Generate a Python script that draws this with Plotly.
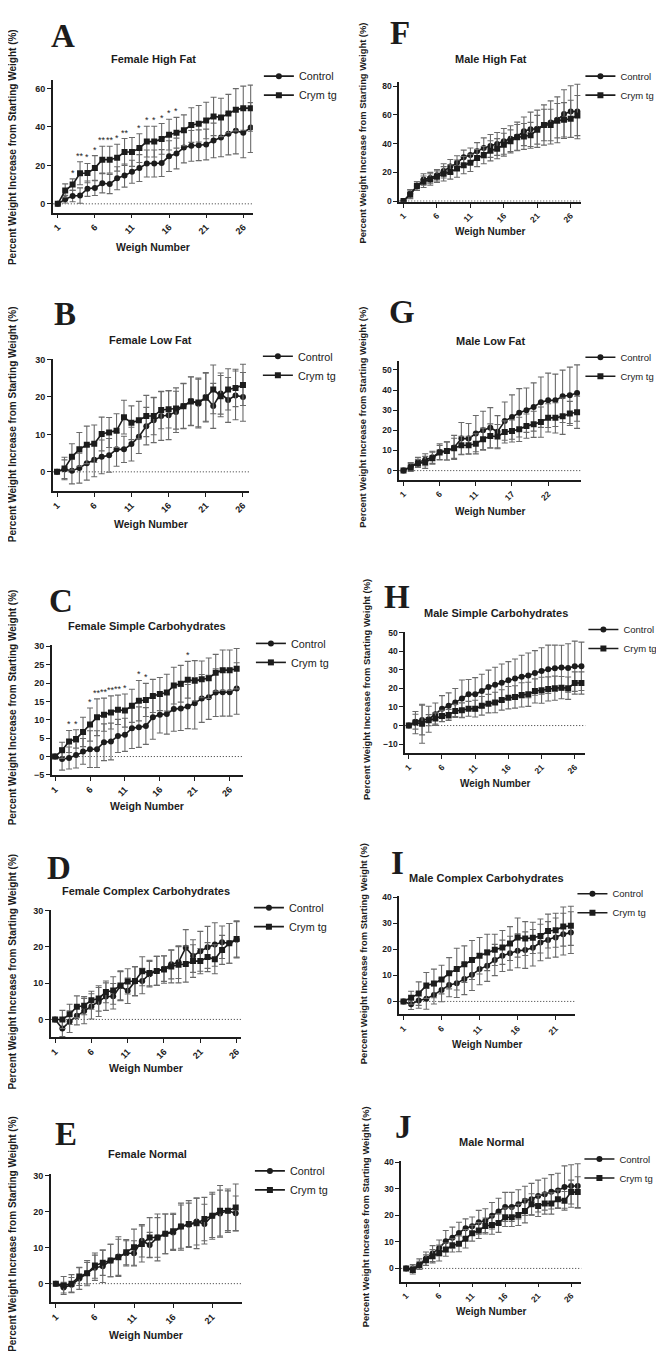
import plotly.graph_objects as go

# ---------------- data ----------------
# A  Female High Fat (27 weighs)
ctrl_A = [0, 2.4, 4.1, 4.3, 7.9, 8.3, 10.7, 10.3, 13.3, 14.7, 16.7, 18.6, 21.0, 21.0, 21.2, 24.8, 26.2, 29.3, 30.2, 30.5, 30.9, 33.0, 34.5, 36.5, 38.0, 37.0, 39.7]
ctrl_A_err = [0, 2, 3, 4, 4, 4, 5, 5, 6, 6, 6, 7, 7, 7, 7, 8, 8, 8, 8, 8, 8, 9, 10, 11, 12, 13, 13]
crym_A = [0, 6.9, 10.0, 15.9, 16.0, 18.6, 23.0, 23.0, 24.0, 27.0, 27.0, 29.0, 32.4, 32.4, 33.8, 36.0, 37.0, 38.3, 41.0, 41.7, 43.4, 45.5, 45.0, 47.0, 49.0, 49.8, 49.8]
crym_A_err = [0, 3.5, 3, 6, 5, 6.5, 7, 7, 7, 7, 7.5, 7.5, 8, 8, 8, 8, 8, 8, 9, 9.5, 9.5, 10, 10, 10, 11, 11.5, 12]
sig_A_n = [3, 4, 5, 6, 7, 8, 9, 10, 12, 13, 14, 15, 16, 17]
sig_A_txt = ["*", "**", "*", "*", "**", "**", "*", "**", "*", "*", "*", "*", "*", "*"]

# F  Male High Fat (27)
ctrl_F = [0, 5.0, 10.4, 15.0, 16.0, 18.0, 21.0, 24.0, 26.6, 30.5, 32.0, 34.7, 37.0, 38.4, 39.8, 41.6, 43.5, 45.0, 48.6, 50.0, 50.4, 53.0, 54.8, 56.6, 60.6, 62.4, 62.4]
ctrl_F_err = [0, 3, 3, 4, 4, 4, 5, 5, 5, 5, 5, 6, 7, 8, 8, 9, 9, 10, 10, 12, 13, 14, 15, 16, 17, 18, 19]
crym_F = [0, 4.6, 10.4, 13.4, 15.0, 17.0, 19.0, 20.3, 22.6, 25.0, 26.6, 30.0, 32.0, 35.0, 36.5, 39.3, 41.6, 44.4, 45.0, 45.8, 49.7, 53.0, 53.0, 56.0, 56.6, 57.3, 59.6]
crym_F_err = [0, 3, 3, 4, 4, 4, 5, 5, 6, 6, 6, 6, 6, 7, 7, 8, 8, 9, 9, 9, 10, 11, 11, 12, 12, 13, 14]

# B  Female Low Fat (26)
ctrl_B = [0, 0.7, 0.3, 1.0, 2.3, 3.2, 4.0, 4.4, 6.0, 6.0, 7.4, 9.4, 12.2, 13.8, 14.9, 15.1, 16.0, 17.6, 18.9, 18.2, 20.0, 17.6, 20.9, 19.2, 20.4, 20.0]
ctrl_B_err = [0, 2.5, 3.5, 4, 4.5, 4.5, 4.5, 4.5, 4.5, 3.5, 4.5, 4.5, 5, 6, 6.5, 6.5, 5.5, 6, 6.5, 6.5, 6.5, 6, 5.5, 6, 6.5, 6.5]
crym_B = [0, 0.9, 4.0, 6.0, 7.2, 7.5, 10.1, 10.5, 11.0, 14.6, 13.1, 13.8, 14.9, 14.9, 16.5, 16.7, 16.9, 17.5, 18.8, 18.5, 19.8, 22.0, 20.2, 22.0, 22.4, 23.2]
crym_B_err = [0, 3, 3.5, 4.5, 5, 5, 4.5, 4, 4.5, 4.5, 4.5, 5, 5.5, 5, 5, 5, 5.5, 6, 6.5, 6.5, 6.5, 6.5, 5.5, 5.5, 5, 5.5]

# G  Male Low Fat (25 positions, tick labels skip a weigh)
ctrl_G = [0, 2.0, 4.1, 5.4, 6.6, 9.3, 9.8, 11.5, 15.9, 15.9, 18.4, 20.0, 21.3, 19.3, 24.6, 26.6, 28.7, 30.0, 31.6, 34.0, 34.9, 34.9, 36.9, 37.4, 38.5]
ctrl_G_err = [0, 2, 2.5, 3, 3, 4, 4.5, 6, 8, 7.5, 9, 9.5, 10, 8, 9.5, 11, 12, 11, 12, 12.5, 13.5, 13, 13, 14, 14]
crym_G = [0, 1.6, 3.6, 4.1, 6.2, 9.0, 9.8, 11.1, 12.6, 12.6, 13.3, 15.6, 17.2, 16.9, 19.2, 19.7, 20.5, 22.1, 23.0, 24.1, 26.2, 26.2, 27.0, 28.4, 29.0]
crym_G_err = [0, 2, 2, 3, 3, 3.5, 4.5, 5, 4.5, 4.5, 5, 5.5, 6, 6, 5.5, 5.5, 6, 6, 6.5, 7.5, 7, 7.5, 9, 6, 8]
ticktext_G = ["1", "6", "11", "17", "22"]

# C  Female Simple Carbohydrates (27)
ctrl_C = [0, -0.7, -0.4, 0.4, 1.4, 2.0, 2.0, 3.9, 4.1, 5.6, 5.9, 7.7, 8.0, 8.3, 10.7, 11.4, 11.6, 12.9, 13.1, 13.6, 14.5, 15.8, 16.1, 17.4, 17.5, 17.5, 18.5]
ctrl_C_err = [0, 3, 3, 3.5, 3.5, 5, 5, 5, 5, 4.5, 4.5, 5.5, 5.5, 5, 6, 5, 5.5, 6, 6, 6, 7, 6.5, 6, 6.5, 6.5, 6.5, 7]
crym_C = [0, 1.7, 4.1, 4.8, 6.7, 8.7, 10.7, 11.4, 12.0, 12.7, 12.5, 13.8, 15.2, 15.4, 16.5, 17.0, 17.4, 19.3, 19.8, 20.9, 20.6, 21.0, 21.3, 22.8, 23.5, 23.5, 23.9]
crym_C_err = [0, 2.2, 3, 2.5, 4, 4.5, 5, 4.5, 4.5, 4, 4.5, 4.5, 5.5, 4.5, 4.5, 4.5, 5, 5, 5, 5, 5.5, 5, 5.5, 5, 5.5, 5.5, 5.5]
sig_C_n = [3, 4, 6, 7, 8, 9, 10, 11, 13, 14, 20]
sig_C_txt = ["*", "*", "*", "**", "**", "**", "**", "*", "*", "*", "*"]

# H  Male Simple Carbohydrates (27)
ctrl_H = [0, 2.1, 3.0, 3.4, 6.1, 9.1, 10.6, 12.4, 14.5, 16.8, 16.8, 18.6, 20.8, 21.9, 23.1, 24.4, 25.3, 26.3, 27.0, 28.3, 29.4, 30.3, 30.8, 31.2, 31.0, 31.9, 31.9]
ctrl_H_err = [0, 4, 8, 7, 6, 7, 7, 7.5, 10, 8, 9, 9, 9, 9.5, 10, 10, 10.5, 11.5, 12, 12, 12.5, 13, 12.5, 12, 13, 13.5, 13]
crym_H = [0, 1.6, 1.0, 2.9, 3.8, 5.2, 5.7, 7.9, 8.2, 9.0, 9.1, 10.6, 11.8, 12.4, 13.8, 15.0, 15.4, 16.5, 16.8, 18.6, 19.0, 19.7, 20.1, 20.4, 20.1, 22.9, 22.9]
crym_H_err = [0, 6, 10.5, 3, 3, 3, 3, 3.5, 4, 4, 4.5, 5, 5, 5.5, 5.5, 6, 6, 6.5, 6.5, 6.5, 7, 6.5, 6.5, 6, 6, 6, 6]

# D  Female Complex Carbohydrates (26)
ctrl_D = [0, -2.5, -0.6, 1.0, 2.3, 3.6, 4.8, 6.3, 6.4, 9.2, 7.9, 10.5, 10.6, 12.5, 13.4, 14.0, 15.2, 15.8, 19.8, 17.5, 18.8, 19.9, 20.7, 21.3, 21.0, 22.0]
ctrl_D_err = [0, 2.2, 3, 2.5, 3.5, 3.5, 4, 3.8, 3.5, 4, 3.5, 4, 3.5, 3.5, 4, 3.5, 4, 4.5, 5, 4.5, 5.5, 5.8, 6, 4.5, 5.5, 5]
crym_D = [0, 0.0, 1.4, 3.5, 3.8, 5.3, 5.8, 7.6, 8.0, 9.4, 10.5, 10.6, 13.3, 12.8, 13.4, 13.8, 14.6, 15.1, 15.3, 16.1, 16.1, 17.2, 16.6, 19.2, 21.0, 22.2]
crym_D_err = [0, 2.5, 2.8, 3, 2.5, 2.5, 3.5, 3, 3.8, 4, 3.5, 4, 4, 3.5, 4, 3.8, 4.5, 5, 5, 4.5, 3.5, 4, 4, 4, 5.5, 5]

# I  Male Complex Carbohydrates (23)
ctrl_I = [0, -1.1, 0.4, 1.0, 2.5, 4.4, 6.3, 7.0, 8.6, 10.2, 12.4, 13.7, 15.9, 17.5, 18.5, 19.4, 19.7, 20.6, 22.6, 23.6, 24.5, 25.8, 26.4]
ctrl_I_err = [0, 2, 3, 4, 3.5, 4.5, 4.5, 5.5, 6, 6, 6, 6, 6, 6, 6.5, 6.5, 7, 7, 7, 7, 7.5, 8, 8]
crym_I = [0, 1.4, 3.0, 6.1, 6.9, 8.4, 10.8, 12.4, 14.3, 15.9, 17.5, 18.8, 19.8, 20.7, 22.2, 24.5, 24.1, 24.4, 25.1, 27.0, 27.3, 28.7, 29.0]
crym_I_err = [0, 2.5, 4.5, 5, 5.5, 5.5, 6, 8, 7, 7.5, 7, 7, 6, 6.5, 6.5, 7.5, 6.5, 6, 6.5, 6.5, 6.5, 7.5, 7.5]

# E  Female Normal (24)
ctrl_E = [0, -1.1, -0.3, 1.4, 2.9, 4.4, 4.8, 6.4, 7.5, 8.4, 8.4, 11.9, 10.7, 12.8, 13.8, 14.2, 15.8, 16.3, 17.2, 16.5, 18.8, 19.4, 20.2, 19.5]
ctrl_E_err = [0, 1.5, 2, 3, 3.5, 3.5, 4.5, 4.5, 5.5, 3.5, 3.5, 4.5, 3.5, 5.5, 5.5, 5, 6, 6, 6.5, 5.5, 6, 6.5, 6, 4.8]
crym_E = [0, -0.5, 0.0, 2.0, 2.9, 5.0, 5.8, 6.4, 7.3, 8.7, 10.1, 11.0, 12.8, 12.8, 13.8, 14.5, 15.8, 16.5, 16.7, 17.9, 18.8, 20.2, 20.2, 21.1]
crym_E_err = [0, 2.5, 2.5, 2.5, 3, 3.5, 3.5, 4.5, 5, 3.5, 5, 5, 5.5, 6.5, 5.5, 5, 6.5, 6.5, 7, 6, 6.5, 7, 5.5, 6.5]

# J  Male Normal (27)
ctrl_J = [0, 0.0, 1.6, 3.7, 5.6, 7.7, 10.3, 11.6, 13.4, 15.2, 15.9, 17.4, 18.0, 19.9, 21.5, 23.2, 23.2, 24.2, 25.5, 26.1, 27.3, 28.0, 28.9, 29.4, 30.7, 31.1, 31.1]
ctrl_J_err = [0, 1.5, 2, 2.5, 3, 3, 4, 4, 4, 3.5, 3.5, 4.5, 4.5, 5, 5, 5.5, 5.5, 5.5, 5.5, 6, 6, 6, 6.5, 6.5, 8, 8, 8.4]
crym_J = [0, -0.6, 1.2, 3.1, 4.6, 5.8, 7.1, 8.7, 9.3, 11.2, 13.3, 14.3, 16.0, 16.4, 17.1, 19.3, 19.3, 20.2, 21.7, 24.2, 23.6, 24.5, 24.5, 26.1, 25.5, 28.8, 28.8]
crym_J_err = [0, 1.5, 1.5, 2, 2.5, 3, 2.5, 2.5, 3, 3.5, 3, 3, 3, 3.5, 3.5, 3.5, 3.5, 4, 4.5, 4, 4, 4, 4, 3.5, 3.5, 4.5, 5.8]

series_names = ["Control", "Crym tg"]
xtitle = "Weigh Number"
ytitle = "Percent Weight Increase from Starting Weight (%)"

# ---------------- layout (pixel boxes) ----------------
W, H = 664, 1362
SANS = "Liberation Sans, Arial, sans-serif"
SERIF = "Liberation Serif, Times New Roman, serif"
INK = "#1c1c1c"
ERR = "#6a6a6a"

# yx = annotation anchor x (px) for the rotated y-axis title
panels = [
    dict(L="A", t="Female High Fat", d=(ctrl_A, ctrl_A_err, crym_A, crym_A_err), box=(42, 243, 68, 202),
         xr=[0.33, 27.3], yr=[-4.6, 64.7], yt=[0, 20, 40, 60], xt=[1, 6, 11, 16, 21, 26], xtt=None,
         let=(52, 24), tit=(143, 47), xty=237, yx=1, yc=136, leg=(292, 77), sig=(sig_A_n, sig_A_txt), col=0),
    dict(L="F", t="Male High Fat", d=(ctrl_F, ctrl_F_err, crym_F, crym_F_err), box=(390, 573, 70, 191),
         xr=[0.36, 27.6], yr=[-0.5, 83.3], yt=[0, 20, 40, 60, 80], xt=[1, 6, 11, 16, 21, 26], xtt=None,
         let=(391, 21), tit=(482, 47), xty=221, yx=353, yc=122, leg=(622, 76), sig=None, col=1),
    dict(L="B", t="Female Low Fat", d=(ctrl_B, ctrl_B_err, crym_B, crym_B_err), box=(42, 239, 349, 482),
         xr=[0.43, 26.8], yr=[-5.06, 30.2], yt=[0, 10, 20, 30], xt=[1, 6, 11, 16, 21, 26], xtt=None,
         let=(54, 304), tit=(140, 330), xty=515, yx=1, yc=415, leg=(291, 359), sig=None, col=0),
    dict(L="G", t="Male Low Fat", d=(ctrl_G, ctrl_G_err, crym_G, crym_G_err), box=(390, 573, 351, 471),
         xr=[0.41, 25.6], yr=[-4.6, 54.6], yt=[0, 10, 20, 30, 40, 50], xt=[1, 6, 11, 16, 21], xtt=ticktext_G,
         let=(393, 302), tit=(482, 331), xty=503, yx=353, yc=408, leg=(622, 359), sig=None, col=1),
    dict(L="C", t="Female Simple Carbohydrates", d=(ctrl_C, ctrl_C_err, crym_C, crym_C_err), box=(41, 233, 637, 768),
         xr=[0.53, 27.9], yr=[-5, 30.4], yt=[-5, 0, 5, 10, 15, 20, 25, 30], xt=[1, 6, 11, 16, 21, 26], xtt=None,
         let=(50, 593), tit=(137, 618), xty=799, yx=1, yc=700, leg=(284, 648), sig=(sig_C_n, sig_C_txt), col=0),
    dict(L="H", t="Male Simple Carbohydrates", d=(ctrl_H, ctrl_H_err, crym_H, crym_H_err), box=(396, 577, 624, 746),
         xr=[0.46, 27.6], yr=[-14.8, 50.4], yt=[-10, 0, 10, 20, 30, 40, 50], xt=[1, 6, 11, 16, 21, 26], xtt=None,
         let=(388, 589), tit=(487, 605), xty=777, yx=357, yc=682, leg=(625, 633), sig=None, col=1),
    dict(L="D", t="Female Complex Carbohydrates", d=(ctrl_D, ctrl_D_err, crym_D, crym_D_err), box=(40, 231, 904, 1032),
         xr=[0.41, 26.6], yr=[-4.9, 30.2], yt=[0, 10, 20, 30], xt=[1, 6, 11, 16, 21, 26], xtt=None,
         let=(48, 862), tit=(136, 885), xty=1063, yx=2, yc=966, leg=(282, 914), sig=None, col=0),
    dict(L="I", t="Male Complex Carbohydrates", d=(ctrl_I, ctrl_I_err, crym_I, crym_I_err), box=(390, 567, 890, 1009),
         xr=[0.44, 23.6], yr=[-4.95, 40.4], yt=[0, 10, 20, 30, 40], xt=[1, 6, 11, 16, 21], xtt=None,
         let=(388, 857), tit=(478, 872), xty=1039, yx=354, yc=948, leg=(614, 899), sig=None, col=1),
    dict(L="E", t="Female Normal", d=(ctrl_E, ctrl_E_err, crym_E, crym_E_err), box=(40, 232, 1170, 1299),
         xr=[0.36, 24.8], yr=[-5.2, 30.3], yt=[0, 10, 20, 30], xt=[1, 6, 11, 16, 21], xtt=None,
         let=(55, 1129), tit=(137, 1150), xty=1332, yx=2, yc=1230, leg=(283, 1179), sig=None, col=0),
    dict(L="J", t="Male Normal", d=(ctrl_J, ctrl_J_err, crym_J, crym_J_err), box=(392, 573, 1157, 1278),
         xr=[0.25, 27.56], yr=[-4.95, 40.4], yt=[0, 10, 20, 30, 40], xt=[1, 6, 11, 16, 21, 26], xtt=None,
         let=(394, 1122), tit=(483, 1138), xty=1308, yx=357, yc=1213, leg=(621, 1166), sig=None, col=1),
]

# legend text offset from legend origin (px), per column
LEG_DX = [43, 50]
LEG_DY = [27, 26]
LEG_FS = [10.8, 9.5]


def fx(p):
    return p / W


def fy(p):
    return 1 - p / H


fig = go.Figure()
annotations = []
shapes = []
layout = dict(
    width=W, height=H, margin=dict(l=0, r=0, t=0, b=0),
    paper_bgcolor="white", plot_bgcolor="white", showlegend=True,
    font=dict(family=SANS, color=INK),
)

for i, p in enumerate(panels):
    k = i + 1
    xa = "x" if k == 1 else f"x{k}"
    ya = "y" if k == 1 else f"y{k}"
    lg = "legend" if k == 1 else f"legend{k}"
    ctrl, ctrl_err, crym, crym_err = p["d"]
    n = list(range(1, len(ctrl) + 1))
    c = p["col"]
    small = c == 1
    tick_fs = 8.5 if small else 9

    for name, ys, es, sym in [(series_names[0], ctrl, ctrl_err, "circle"),
                               (series_names[1], crym, crym_err, "square")]:
        fig.add_trace(go.Scatter(
            x=n, y=ys, name=name, mode="lines+markers",
            xaxis=xa, yaxis=ya, legend=lg, legendgroup=f"{p['L']}{name}",
            line=dict(color=INK, width=1.6),
            marker=dict(symbol=sym, size=6, color=INK),
            error_y=dict(type="data", array=es, visible=True, color=ERR, thickness=1.1, width=3),
        ))

    x0, x1, y0, y1 = p["box"]
    axcommon = dict(showline=True, linewidth=1.6, linecolor=INK, ticks="outside", ticklen=4,
                    tickwidth=1.4, tickcolor=INK, showgrid=False, zeroline=False,
                    tickfont=dict(family=SANS, size=tick_fs, color=INK, weight="bold"))
    layout["xaxis" if k == 1 else f"xaxis{k}"] = dict(
        domain=[fx(x0), fx(x1)], range=p["xr"], anchor=ya,
        tickmode="array", tickvals=p["xt"], ticktext=p["xtt"] if p["xtt"] else [str(v) for v in p["xt"]],
        tickangle=-45, **axcommon)
    layout["yaxis" if k == 1 else f"yaxis{k}"] = dict(
        domain=[fy(y1), fy(y0)], range=p["yr"], anchor=xa,
        tickmode="array", tickvals=p["yt"], **axcommon)

    # dotted zero reference line
    shapes.append(dict(type="line", xref=f"{xa} domain", yref=ya, x0=0, x1=1, y0=0, y1=0,
                       line=dict(color="#333333", width=1, dash="1px,2px"), layer="below"))

    # legend
    lx, ly = p["leg"]
    layout[lg] = dict(x=fx(lx - LEG_DX[c]), y=fy(ly - LEG_DY[c]), xanchor="left", yanchor="top",
                      xref="paper", yref="paper", bgcolor="rgba(0,0,0,0)",
                      font=dict(family=SANS, size=LEG_FS[c], color=INK),
                      tracegroupgap=0, itemwidth=30)

    # panel letter
    annotations.append(dict(text=p["L"], x=fx(p["let"][0]), y=fy(p["let"][1]), xref="paper", yref="paper",
                            xanchor="center", yanchor="middle", showarrow=False,
                            font=dict(family=SERIF, size=33, color=INK, weight="bold")))
    # title
    annotations.append(dict(text=p["t"], x=fx(p["tit"][0]), y=fy(p["tit"][1]), xref="paper", yref="paper",
                            xanchor="center", yanchor="middle", showarrow=False,
                            font=dict(family=SANS, size=11, color=INK, weight="bold")))
    # x title
    annotations.append(dict(text=xtitle, x=fx((x0 + x1) / 2), y=fy(p["xty"]), xref="paper", yref="paper",
                            xanchor="center", yanchor="middle", showarrow=False,
                            font=dict(family=SANS, size=10 if small else 10.5, color=INK, weight="bold")))
    # y title
    annotations.append(dict(text=ytitle, x=fx(p["yx"]), y=fy(p["yc"]), xref="paper", yref="paper",
                            xanchor="center", yanchor="middle", showarrow=False, textangle=-90,
                            font=dict(family=SANS, size=9.4 if small else 10, color=INK, weight="bold")))
    # significance asterisks
    if p["sig"]:
        for sn, st in zip(*p["sig"]):
            top = max(crym[sn - 1] + crym_err[sn - 1], ctrl[sn - 1] + ctrl_err[sn - 1])
            annotations.append(dict(text=st, x=sn, y=top, xref=xa, yref=ya, xanchor="center",
                                    yanchor="bottom", showarrow=False, yshift=-1,
                                    font=dict(family=SANS, size=9, color=INK)))

layout["annotations"] = annotations
layout["shapes"] = shapes
fig.update_layout(**layout)
fig.write_html("out.html")
